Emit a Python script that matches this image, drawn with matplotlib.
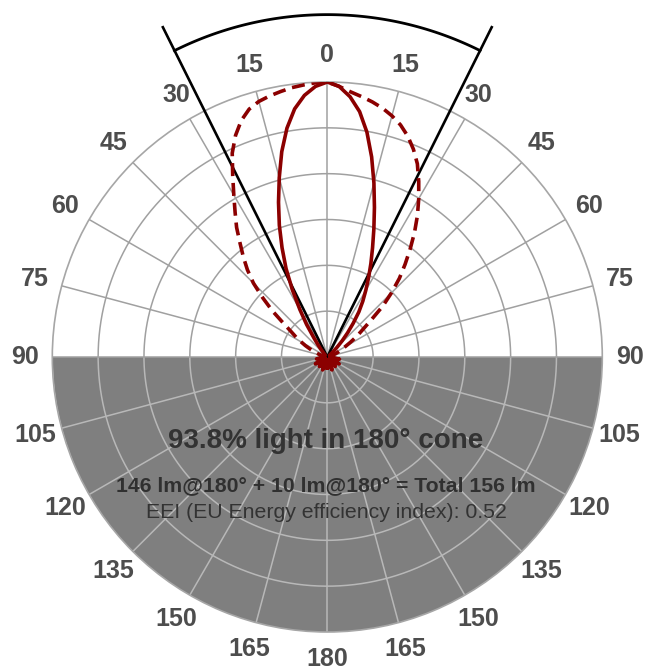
import numpy as np
import matplotlib
matplotlib.use("Agg")
import matplotlib.pyplot as plt

plt.rcParams['font.family'] = ['Liberation Sans', 'DejaVu Sans']

# angles in degrees, 0 = straight up, positive = right side
ang_low_left = np.arange(-180, -99, 10)
ang_lobe = np.arange(-90, 90.1, 2.5)
ang_low_right = np.arange(100, 181, 10)
angles = np.concatenate([ang_low_left, ang_lobe, ang_low_right])

# relative intensity, narrow beam (solid)
solid_low_left = [0.04, 0.01, 0.05, 0.01, 0.045, 0.01, 0.05, 0.01, 0.04]
solid_lobe = ([0.01] * 16 +
              [0.01, 0.01, 0.015, 0.02, 0.035, 0.055, 0.085, 0.14, 0.20, 0.275,
               0.355, 0.43, 0.51, 0.59, 0.675, 0.765, 0.845, 0.91, 0.955, 0.985] +
              [1.0] +
              [0.985, 0.95, 0.90, 0.83, 0.745, 0.655, 0.57, 0.495, 0.43, 0.375,
               0.325, 0.28, 0.24, 0.20, 0.155, 0.115, 0.08, 0.05, 0.03, 0.015] +
              [0.01] * 16)
solid_low_right = [0.045, 0.01, 0.05, 0.01, 0.045, 0.01, 0.05, 0.01, 0.04]
solid = solid_low_left + solid_lobe + solid_low_right

# relative intensity, wide beam (dashed)
dashed_low_left = [0.01] * 9
dashed_lobe = ([0.01, 0.01, 0.01, 0.01, 0.01, 0.015, 0.02, 0.03] +
               [0.04, 0.055, 0.07, 0.09, 0.11, 0.135, 0.16, 0.20, 0.26, 0.318,
                0.38, 0.43, 0.475, 0.521, 0.575, 0.624, 0.68, 0.745, 0.818, 0.872,
                0.915, 0.945, 0.962, 0.972, 0.98, 0.988, 0.993, 0.998] +
               [1.0] +
               [0.985, 0.968, 0.955, 0.942, 0.927, 0.908, 0.885, 0.855, 0.818, 0.775,
                0.72, 0.665, 0.61, 0.553, 0.495, 0.44, 0.388, 0.33, 0.273, 0.205,
                0.16, 0.13, 0.10, 0.075, 0.06, 0.045, 0.035, 0.025] +
               [0.02, 0.015, 0.01, 0.01, 0.01, 0.01, 0.01, 0.01])
dashed_low_right = [0.01] * 9
dashed = dashed_low_left + dashed_lobe + dashed_low_right

beam_half = 26.5
label_angles = list(range(0, 360, 15))
label_text = [str(a if a <= 180 else 360 - a) for a in label_angles]

title = "93.8% light in 180° cone"
line2 = "146 lm@180° + 10 lm@180° = Total 156 lm"
line3 = "EEI (EU Energy efficiency index): 0.52"

fig = plt.figure(figsize=(6.49, 6.72), dpi=100)
ax = fig.add_axes([52.3 / 649, 40 / 672, 550 / 649, 550 / 672], projection='polar')
ax.set_theta_zero_location('N')
ax.set_theta_direction(-1)
ax.set_ylim(0, 1)
ax.set_xticks([])
ax.set_yticks([])
ax.grid(False)
ax.spines['polar'].set_color('#a6a6a6')
ax.spines['polar'].set_linewidth(1.2)

# lower half shaded
th = np.deg2rad(np.linspace(90, 270, 200))
ax.fill_between(th, 0, 1, color='#7f7f7f', lw=0, zorder=0)

# grid
up_col, low_col = '#a0a0a0', '#b8b8b8'
for r in np.arange(1, 6) / 6:
    ax.plot(np.deg2rad(np.linspace(-90, 90, 200)), [r] * 200, color=up_col, lw=1.1, zorder=1)
    ax.plot(np.deg2rad(np.linspace(90, 270, 200)), [r] * 200, color=low_col, lw=1.1, zorder=1)
for a in label_angles:
    col = up_col if (a <= 90 or a >= 270) else low_col
    ax.plot([np.deg2rad(a)] * 2, [0, 1], color=col, lw=1.1, zorder=1)

# beam angle marker
ax.plot([np.deg2rad(-beam_half)] * 2, [0, 1.34], color='black', lw=1.9, clip_on=False, zorder=3)
ax.plot([np.deg2rad(beam_half)] * 2, [0, 1.34], color='black', lw=1.9, clip_on=False, zorder=3)
arc = np.deg2rad(np.linspace(-beam_half, beam_half, 100))
ax.plot(arc, [1.245] * 100, color='black', lw=2.0, clip_on=False, zorder=3)

# curves
t = np.deg2rad(angles)
ax.plot(t, dashed, color='#8b0000', lw=2.6, ls=(0, (3.6, 1.9)), zorder=4)
ax.plot(t, solid, color='#8b0000', lw=2.6, zorder=5)

# angle labels
for a, s in zip(label_angles, label_text):
    ax.text(np.deg2rad(a), 1.10, s, ha='center', va='center', fontsize=18,
            fontweight='bold', color='#4d4d4d')

fig.text(326 / 649, 1 - 441 / 672, title, ha='center', va='center', fontsize=20,
         fontweight='bold', color='#333333')
fig.text(326 / 649, 1 - 486 / 672, line2, ha='center', va='center', fontsize=15.3,
         fontweight='bold', color='#303030')
fig.text(326 / 649, 1 - 513 / 672, line3, ha='center', va='center', fontsize=15.3,
         color='#333333')

fig.savefig('out.png', dpi=100)
